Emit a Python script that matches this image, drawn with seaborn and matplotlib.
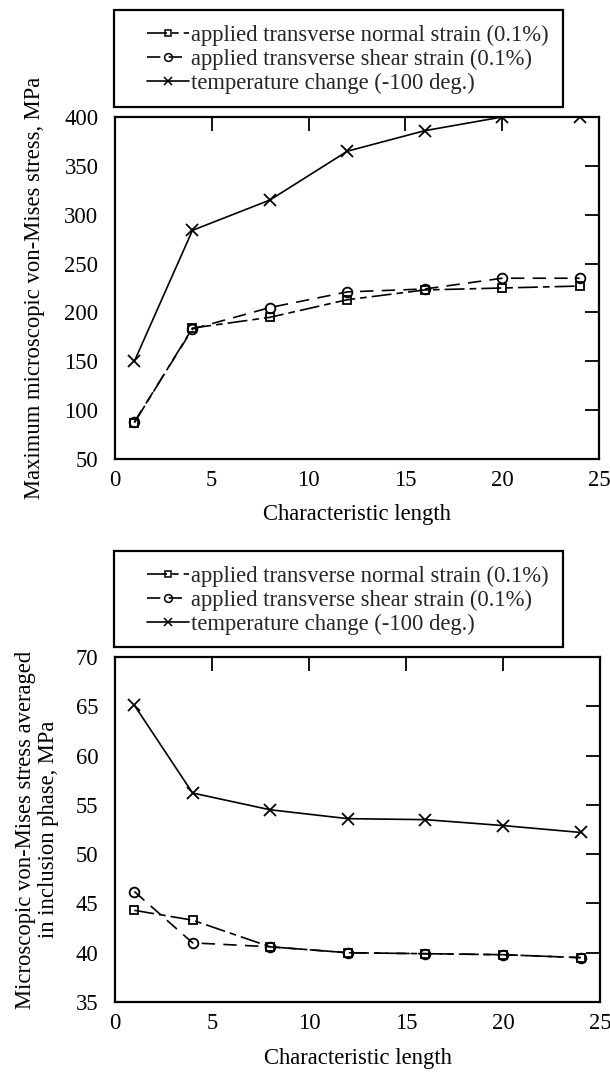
import matplotlib
matplotlib.use("Agg")
import matplotlib.pyplot as plt
import seaborn as sns
import pandas as pd
from matplotlib.patches import Rectangle
from matplotlib.lines import Line2D

# ---- data ----
char_length = [1, 4, 8, 12, 16, 20, 24]
max_normal = [87, 184, 195, 213, 223, 225, 227]
max_shear = [88, 183, 205, 221, 224, 235, 235]
max_temp = [150, 284, 315, 365, 386, 400, 400]

avg_normal = [44.3, 43.3, 40.6, 40.0, 39.9, 39.8, 39.5]
avg_shear = [46.2, 41.0, 40.6, 40.0, 39.9, 39.8, 39.5]
avg_temp = [65.1, 56.2, 54.5, 53.6, 53.5, 52.9, 52.2]

labels = ["applied transverse normal strain (0.1%)",
          "applied transverse shear strain (0.1%)",
          "temperature change (-100 deg.)"]
x_ticks = [0, 5, 10, 15, 20, 25]
top_yticks = [50, 100, 150, 200, 250, 300, 350, 400]
bot_yticks = [35, 40, 45, 50, 55, 60, 65, 70]

sns.set_theme(style="white")
plt.rcParams['font.family'] = ['Liberation Serif', 'DejaVu Serif']
FS = 16.3

fig = plt.figure(figsize=(6.10, 10.77), dpi=100)
W, H = 610, 1077

def fax(l, t, r, b):
    return fig.add_axes([l / W, 1 - b / H, (r - l) / W, (b - t) / H])

ax1 = fax(115, 117, 599, 459)
ax2 = fax(115, 657, 600, 1002)

styles = [
    dict(marker="s", ms=6, dashes=(12, 3, 4, 3)),
    dict(marker="o", ms=7, dashes=(8, 5)),
    dict(marker="x", ms=8, dashes=""),
]

def draw(ax, series, yticks, ylabel):
    for vals, lab, st in zip(series, labels, styles):
        df = pd.DataFrame({"x": char_length, "y": vals})
        sns.lineplot(data=df, x="x", y="y", ax=ax, color="black", lw=1.2,
                     marker=st["marker"], markersize=st["ms"],
                     markerfacecolor="none" if st["marker"] != "x" else "black",
                     markeredgecolor="black", markeredgewidth=1.3,
                     dashes=st["dashes"] if st["dashes"] else (None, None),
                     label=lab, legend=False)
    ax.set_xlim(0, 25)
    ax.set_ylim(yticks[0], yticks[-1])
    ax.set_xticks(x_ticks)
    ax.set_yticks(yticks)
    ax.tick_params(direction="in", length=10, width=1.3, top=True, right=True,
                   labelsize=FS, colors="black")
    ax.tick_params(axis="y", pad=12)
    ax.tick_params(axis="x", pad=8)
    for s in ax.spines.values():
        s.set_linewidth(1.6)
        s.set_color("black")
    ax.set_xlabel("Characteristic length", fontsize=FS, labelpad=9, color="black")
    ax.set_ylabel(ylabel, fontsize=FS, labelpad=14, color="black")
    ax.grid(False)

draw(ax1, [max_normal, max_shear, max_temp], top_yticks,
     "Maximum microscopic von-Mises stress, MPa")
draw(ax2, [avg_normal, avg_shear, avg_temp], bot_yticks,
     "Microscopic von-Mises stress averaged\nin inclusion phase, MPa")
ax2.yaxis.label.set_linespacing(1.1)
ax2.yaxis.labelpad = 12
ax2.xaxis.labelpad = 10

def legend_box(ax, l, t, r, b):
    handles = []
    for line in ax.lines[:3]:
        h = Line2D([0], [0], color="black", lw=1.2, marker=line.get_marker(),
                   markersize=line.get_markersize() * 0.8,
                   markerfacecolor=line.get_markerfacecolor(),
                   markeredgecolor="black", markeredgewidth=1.1)
        pat = line._unscaled_dash_pattern[1]
        if pat:
            h.set_dashes(pat)
        handles.append(h)
    fig.add_artist(Rectangle((l / W, 1 - b / H), (r - l) / W, (b - t) / H,
                             transform=fig.transFigure, fill=False,
                             edgecolor="black", lw=1.6))
    fig.legend(handles, labels, loc="upper left",
               bbox_to_anchor=((l + 28) / W, 1 - (t + 10) / H),
               frameon=False, fontsize=FS, handlelength=1.86,
               handletextpad=0.1, labelspacing=0.13, borderpad=0.2,
               borderaxespad=0)

legend_box(ax1, 114, 10, 563, 107)
legend_box(ax2, 114, 551, 563, 647)

fig.savefig("out.png", dpi=100)
